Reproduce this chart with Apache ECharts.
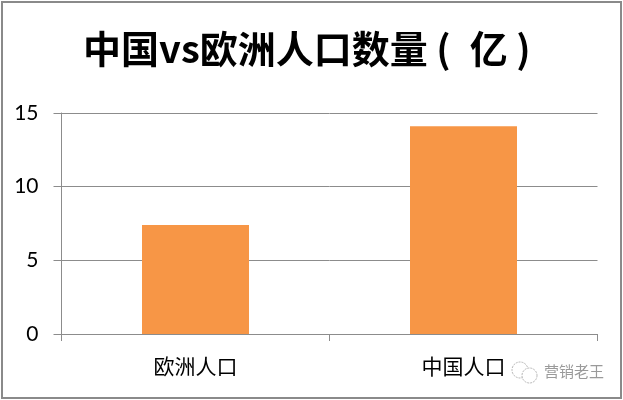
<!DOCTYPE html>
<html><head><meta charset="utf-8">
<style>html,body{margin:0;padding:0;background:#fff}
#c{position:absolute;left:0;top:0;width:623px;height:400px}
#f{position:absolute;left:1px;top:1px;width:617px;height:394px;border:2px solid #8a8a8a;pointer-events:none}</style>
<script src="https://cdn.jsdelivr.net/npm/echarts@6/dist/echarts.min.js"></script>
</head><body><div id="c"></div><div id="f"></div>
<script>
const titleText = '中国vs欧洲人口数量 (\u2002亿 )';
const categories = ['欧洲人口', '中国人口'];
const values = [7.4, 14.1];
const watermark = '营销老王';
const font = '"Noto Sans CJK SC","Noto Sans",sans-serif';
const axisGray = '#8c8c8c';
const chart = echarts.init(document.getElementById('c'), null, {renderer:'canvas'});
chart.setOption({
  animation:false,
  backgroundColor:'#fff',
  title:{text:titleText,left:83,top:30,padding:0,
    textStyle:{fontFamily:font,fontSize:38,fontWeight:'bold',color:'#000'}},
  grid:{left:61.5,right:25.5,top:113,bottom:66,containLabel:false},
  xAxis:{type:'category',data:categories,
    axisLine:{lineStyle:{color:axisGray,width:1}},
    axisTick:{show:true,length:7,alignWithLabel:false,lineStyle:{color:axisGray}},
    axisLabel:{fontFamily:font,fontSize:21,color:'#000',margin:22}},
  yAxis:{type:'value',min:0,max:15,interval:5,
    axisLine:{show:true,lineStyle:{color:axisGray}},
    axisTick:{show:true,length:8,lineStyle:{color:axisGray}},
    splitLine:{lineStyle:{color:axisGray}},
    axisLabel:{fontFamily:'Lato,sans-serif',fontSize:21,color:'#000',margin:23}},
  series:[{type:'bar',data:values,barWidth:107,itemStyle:{color:'#f79646'}}],
  graphic:[
    {type:'text',left:544,top:364,style:{text:watermark,font:'15px '+font,fill:'#9a9a9a'}},
    {type:'circle',shape:{cx:520,cy:370,r:8},style:{fill:'#fff',stroke:'#b5b5b5',lineWidth:1,lineDash:[2,1]}},
    {type:'circle',shape:{cx:529.5,cy:375.5,r:7.5},style:{fill:'#fff',stroke:'#b5b5b5',lineWidth:1,lineDash:[2,1]}}
  ]
});
</script></body></html>
